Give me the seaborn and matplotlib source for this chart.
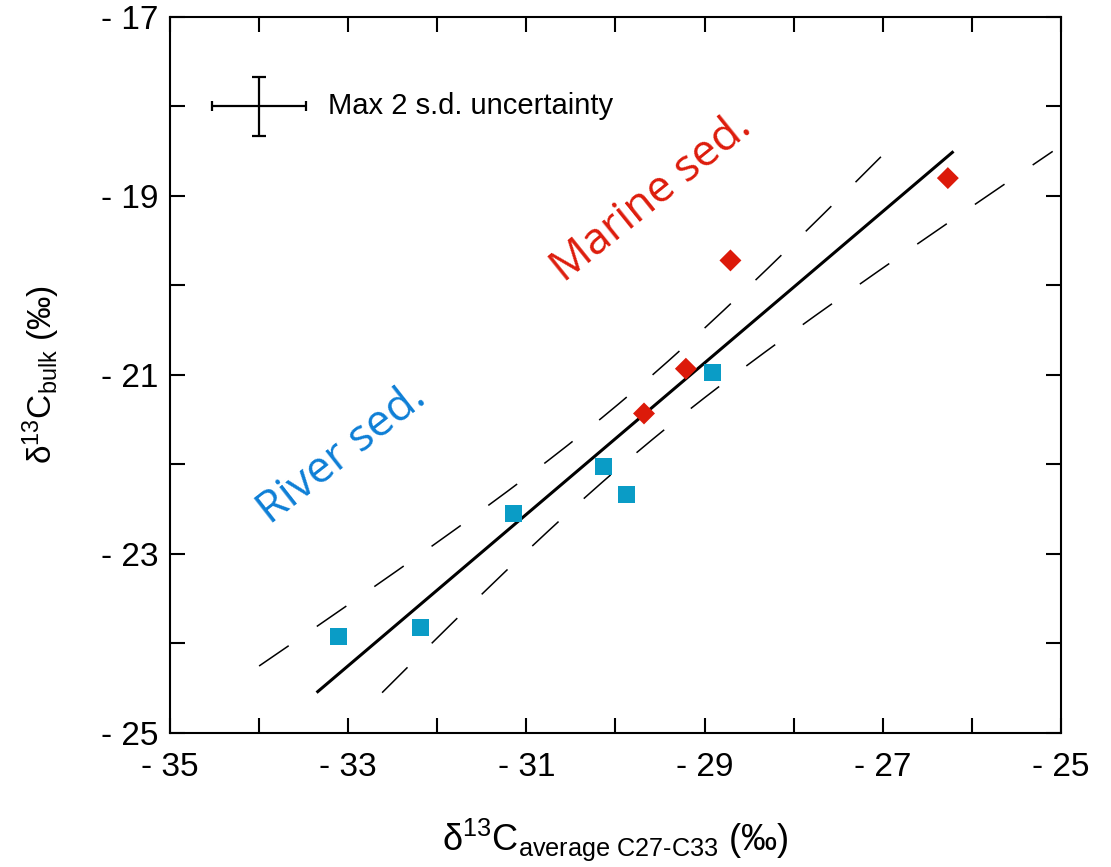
import numpy as np
import pandas as pd
import matplotlib
matplotlib.use("Agg")
import matplotlib.pyplot as plt
from matplotlib.ticker import FixedLocator, FuncFormatter
import seaborn as sns

# --- data: d13C of long-chain n-alkanes vs bulk d13C ---
river_x = [-33.11, -32.19, -31.14, -30.13, -29.88, -28.91]
river_y = [-23.92, -23.82, -22.55, -22.02, -22.33, -20.97]
marine_x = [-29.68, -29.21, -28.71, -26.27]
marine_y = [-21.43, -20.93, -19.72, -18.80]

# regression line and its 95 % confidence envelope
fit_slope = 0.846
fit_intercept = 3.669
band_w0 = 0.357      # half-width at the centre of the data
band_k = 0.0337      # growth of the half-width with distance from the centre
band_xc = -29.84
fit_x_range = (-34.0, -25.0)
fit_y_range = (-24.55, -18.50)

# reference uncertainty cross
unc_x, unc_y = -34.0, -18.0
unc_xerr, unc_yerr = 0.53, 0.33

x_ticks_major = [-35, -33, -31, -29, -27, -25]
x_ticks_minor = [-34, -32, -30, -28, -26]
y_ticks_major = [-25, -23, -21, -19, -17]
y_ticks_minor = [-24, -22, -20, -18]

BLUE_PT = "#0a9cc6"
RED_PT = "#dc1a0a"
BLUE_TXT = "#0e7fd6"
RED_TXT = "#dd1c0c"

sns.set_theme(style="ticks")
plt.rcParams["font.family"] = ["Liberation Sans", "DejaVu Sans"]
plt.rcParams["mathtext.fontset"] = "custom"
plt.rcParams["mathtext.rm"] = "Liberation Sans"
plt.rcParams["mathtext.it"] = "Liberation Sans:italic"
plt.rcParams["axes.unicode_minus"] = False
plt.rcParams["text.color"] = "black"
plt.rcParams["axes.labelcolor"] = "black"
plt.rcParams["xtick.color"] = "black"
plt.rcParams["ytick.color"] = "black"

fig = plt.figure(figsize=(11.11, 8.67), dpi=100)
ax = fig.add_axes([0.153, 0.1546, 0.802, 0.8258])

df = pd.DataFrame({
    "x": river_x + marine_x,
    "y": river_y + marine_y,
    "group": ["River"] * len(river_x) + ["Marine"] * len(marine_x),
})

# fit line and confidence curves, clipped to the fitted y range
xs = np.linspace(fit_x_range[0], fit_x_range[1], 3000)
line = fit_intercept + fit_slope * xs
half = np.sqrt(band_w0 ** 2 + band_k * (xs - band_xc) ** 2)


def clipped(y):
    return np.where((y >= fit_y_range[0]) & (y <= fit_y_range[1]), y, np.nan)


ax.plot(xs, clipped(line), color="black", lw=2.2, solid_capstyle="butt", zorder=2)
for yy in (line + half, line - half):
    ax.plot(xs, clipped(yy), color="black", lw=1.1, dashes=(23.5, 22.3), zorder=2)

sns.scatterplot(data=df[df.group == "River"], x="x", y="y", marker="s", s=150,
                color=BLUE_PT, edgecolor="none", linewidth=0, ax=ax, zorder=3, legend=False)
sns.scatterplot(data=df[df.group == "Marine"], x="x", y="y", marker="D", s=125,
                color=RED_PT, edgecolor="none", linewidth=0, ax=ax, zorder=3, legend=False)

# uncertainty cross
ax.errorbar(unc_x, unc_y, xerr=unc_xerr, fmt="none", ecolor="black", elinewidth=1.6,
            capsize=3.5, capthick=1.6)
ax.errorbar(unc_x, unc_y, yerr=unc_yerr, fmt="none", ecolor="black", elinewidth=1.6,
            capsize=5, capthick=1.6)
ax.text(-33.23, -18.0, "Max 2 s.d. uncertainty", fontsize=21, va="center", ha="left",
        color="black")

ax.text(-33.07, -21.89, "River sed.", rotation=38, fontsize=32, color=BLUE_TXT,
        family="Open Sans", ha="center", va="center", rotation_mode="anchor")
ax.text(-29.59, -19.02, "Marine sed.", rotation=38.8, fontsize=32, color=RED_TXT,
        family="Open Sans", ha="center", va="center", rotation_mode="anchor")

ax.set_xlim(-35, -25)
ax.set_ylim(-25, -17)
fmt = FuncFormatter(lambda v, p: f"- {abs(v):.0f}")
ax.xaxis.set_major_locator(FixedLocator(x_ticks_major))
ax.xaxis.set_minor_locator(FixedLocator(x_ticks_minor))
ax.yaxis.set_major_locator(FixedLocator(y_ticks_major))
ax.yaxis.set_minor_locator(FixedLocator(y_ticks_minor))
ax.xaxis.set_major_formatter(fmt)
ax.yaxis.set_major_formatter(fmt)
ax.tick_params(which="both", direction="in", length=11, width=1.5, color="black",
               top=True, right=True)
ax.tick_params(axis="x", which="major", labelsize=24, pad=14, labelcolor="black")
ax.tick_params(axis="y", which="major", labelsize=24, pad=8, labelcolor="black")
for sp in ax.spines.values():
    sp.set_linewidth(1.5)
    sp.set_color("black")

ax.set_xlabel(r"$\mathregular{\delta^{13}C_{average\ C27\text{-}C33}}$ (‰)", fontsize=26,
              labelpad=24)
ax.set_ylabel(r"$\mathregular{\delta^{13}C_{bulk}}$ (‰)", fontsize=24, labelpad=28)

fig.savefig("out.png", dpi=100, facecolor="white")
